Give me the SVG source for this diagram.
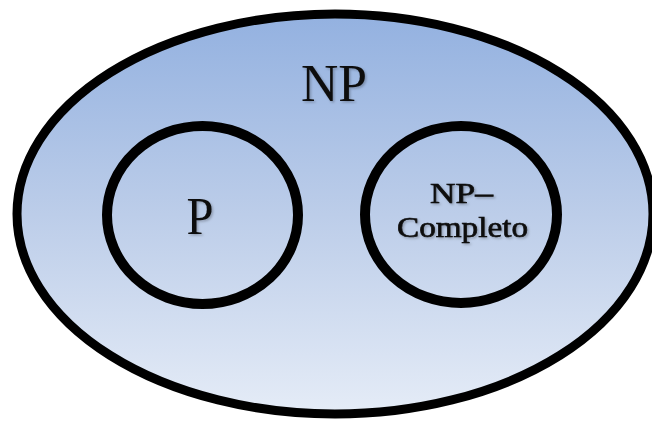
<svg xmlns="http://www.w3.org/2000/svg" width="652" height="423" viewBox="0 0 652 423">
  <defs>
    <linearGradient id="bg" gradientUnits="userSpaceOnUse" x1="0" y1="14" x2="0" y2="414">
      <stop offset="0" stop-color="#93b1e0"/>
      <stop offset="0.5" stop-color="#bccde9"/>
      <stop offset="1" stop-color="#e5ecf7"/>
    </linearGradient>
    <filter id="soft" x="-20%" y="-20%" width="140%" height="140%">
      <feDropShadow dx="1.5" dy="1.5" stdDeviation="1.2" flood-color="#000" flood-opacity="0.25"/>
    </filter>
  </defs>
  <style>
    .ring { fill: none; stroke: #000; stroke-width: 10; }
    .lbl { font-family: "Liberation Serif", "DejaVu Serif", serif; fill: #111; text-anchor: middle; filter: url(#soft); }
    .big { font-size: 53px; }
    .small { font-size: 30px; stroke: #111; stroke-width: 0.7; }
  </style>
  <g id="NP">
    <ellipse cx="335" cy="214" rx="318" ry="200" fill="url(#bg)" stroke="#000" stroke-width="9"/>
    <text class="lbl big" x="334" y="101" textLength="66" lengthAdjust="spacingAndGlyphs">NP</text>
  </g>
  <g id="P">
    <ellipse class="ring" cx="202.5" cy="215" rx="95.5" ry="89"/>
    <text class="lbl big" x="200" y="234" textLength="27" lengthAdjust="spacingAndGlyphs">P</text>
  </g>
  <g id="NP-Completo">
    <ellipse class="ring" cx="461" cy="214.5" rx="96" ry="88.5"/>
    <text class="lbl small" x="461.5" y="203" textLength="63" lengthAdjust="spacingAndGlyphs">NP–</text>
    <text class="lbl small" x="462.5" y="237" textLength="131" lengthAdjust="spacingAndGlyphs">Completo</text>
  </g>
  <g id="connectors"/>
</svg>
